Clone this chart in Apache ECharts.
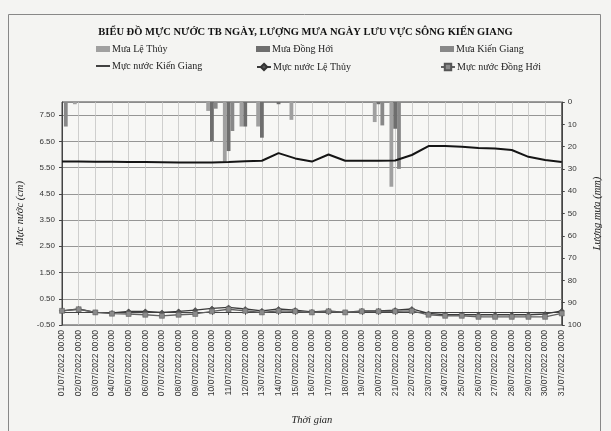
<!DOCTYPE html>
<html>
<head>
<meta charset="utf-8">
<script src="https://cdn.jsdelivr.net/npm/echarts@6/dist/echarts.min.js"></script>
<style>
html,body{margin:0;padding:0;background:#f4f4f2;}
#c{width:611px;height:431px;}
</style>
</head>
<body>
<div id="c"></div>
<script>
const dates = ["01/07/2022 00:00","02/07/2022 00:00","03/07/2022 00:00","04/07/2022 00:00","05/07/2022 00:00","06/07/2022 00:00","07/07/2022 00:00","08/07/2022 00:00","09/07/2022 00:00","10/07/2022 00:00","11/07/2022 00:00","12/07/2022 00:00","13/07/2022 00:00","14/07/2022 00:00","15/07/2022 00:00","16/07/2022 00:00","17/07/2022 00:00","18/07/2022 00:00","19/07/2022 00:00","20/07/2022 00:00","21/07/2022 00:00","22/07/2022 00:00","23/07/2022 00:00","24/07/2022 00:00","25/07/2022 00:00","26/07/2022 00:00","27/07/2022 00:00","28/07/2022 00:00","29/07/2022 00:00","30/07/2022 00:00","31/07/2022 00:00"];

const rainLeThuy   = [0,1,0,0,0,0,0,0,0,4,27,11,11,0,8,0,0,0,0,9,38,0,0,0,0,0,0,0,0,0,0];
const rainDongHoi  = [0,0,0,0,0,0,0,0,0,17.5,22,11,16,1,0,0,0,0,0,1,12,0,0,0,0,0,0,0,0,0,0];
const rainKienGiang= [11,0,0,0,0,0,0,0,0,3,13,0,0,0,0,0,0,0,0,10.5,30,0,0,0,0,0,0,0,0,0,0];

const levelKienGiang = [5.73,5.73,5.72,5.72,5.71,5.71,5.70,5.69,5.69,5.69,5.71,5.74,5.76,6.05,5.85,5.73,6.00,5.76,5.76,5.76,5.77,5.98,6.32,6.32,6.29,6.25,6.23,6.17,5.91,5.79,5.71];
const levelLeThuy    = [0.04,0.11,-0.02,-0.04,0.02,0.02,-0.02,0.02,0.07,0.13,0.17,0.11,0.04,0.11,0.07,0.0,0.04,-0.02,0.04,0.04,0.07,0.11,-0.06,-0.11,-0.11,-0.11,-0.11,-0.11,-0.11,-0.08,0.04];
const levelDongHoi   = [0.04,0.10,-0.02,-0.07,-0.08,-0.11,-0.15,-0.11,-0.08,0.02,0.10,0.04,-0.02,0.04,0.02,-0.02,0.02,-0.02,0.02,0.02,0.02,0.04,-0.11,-0.15,-0.15,-0.19,-0.19,-0.19,-0.19,-0.19,-0.06];

const serif = '"Liberation Serif", "DejaVu Serif", serif';
const sans = '"Liberation Sans", Arial, sans-serif';

function lg(name, left, top, icon, h){
  const o = {data:[{name:name}], left:left, top:top, itemWidth:14, itemHeight:h||6, itemGap:2,
    textStyle:{fontFamily:serif, fontSize:10, color:'#222', padding:[0,0,0,-3]}, padding:0};
  if(icon) o.data[0].icon = icon;
  return o;
}

const chart = echarts.init(document.getElementById('c'), null, {renderer:'canvas'});
chart.setOption({
  backgroundColor:'#f4f4f2',
  animation:false,
  title:{text:'BIỂU ĐỒ MỰC NƯỚC TB NGÀY, LƯỢNG MƯA NGÀY LƯU VỰC SÔNG KIẾN GIANG', left:'center', top:27,
    textStyle:{fontFamily:serif, fontWeight:'bold', fontSize:10.5, color:'#111'}, padding:0},
  legend:[
    lg('Mưa Lệ Thủy',96,44,'rect'),
    lg('Mưa Đồng Hới',256,44,'rect'),
    lg('Mưa Kiến Giang',440,44,'rect'),
    lg('Mực nước Kiến Giang',96,61,'rect',1.6),
    lg('Mực nước Lệ Thủy',256,62,null,8),
    lg('Mực nước Đồng Hới',440,62,null,8)
  ],
  graphic:[{type:'rect', shape:{x:8.5,y:14.5,width:592,height:430}, style:{fill:'none', stroke:'#888', lineWidth:1}, silent:true}],
  grid:{left:62, right:46, top:102, bottom:105, show:true, borderColor:'#444', borderWidth:1, backgroundColor:'#f7f7f5'},
  xAxis:{type:'category', data:dates, boundaryGap:false,
    name:'Thời gian', nameLocation:'middle', nameGap:90,
    nameTextStyle:{fontFamily:serif, fontStyle:'italic', fontSize:10.5, color:'#222'},
    axisLine:{lineStyle:{color:'#444'}},
    axisTick:{show:true, length:3, lineStyle:{color:'#444'}},
    axisLabel:{rotate:90, interval:0, fontFamily:sans, fontSize:8.5, color:'#333', margin:5},
    splitLine:{show:true, lineStyle:{color:'#c4c4c4', width:0.8}}
  },
  yAxis:[
    {type:'value', min:-0.5, max:8, interval:1, position:'left',
      name:'Mực nước (cm)', nameLocation:'middle', nameGap:27, nameRotate:90,
      nameTextStyle:{fontFamily:serif, fontStyle:'italic', fontSize:10.5, color:'#222'},
      axisLine:{show:true, lineStyle:{color:'#444'}},
      axisTick:{show:true, length:3, lineStyle:{color:'#444'}},
      axisLabel:{showMaxLabel:false, fontFamily:sans, fontSize:8, color:'#333', margin:7, formatter:v=>v.toFixed(2)},
      splitLine:{show:true, lineStyle:{color:'#8a8a8a', width:0.9}}
    },
    {type:'value', min:0, max:100, interval:10, inverse:true, position:'right',
      name:'Lượng mưa (mm)', nameLocation:'middle', nameGap:21, nameRotate:90,
      nameTextStyle:{fontFamily:serif, fontStyle:'italic', fontSize:10.5, color:'#222'},
      axisLine:{show:true, lineStyle:{color:'#444'}},
      axisTick:{show:true, length:3, lineStyle:{color:'#444'}},
      axisLabel:{fontFamily:sans, fontSize:8, color:'#333', margin:6},
      splitLine:{show:false}
    }
  ],
  series:[
    {name:'Mưa Lệ Thủy', type:'bar', yAxisIndex:1, data:rainLeThuy, barWidth:3.8, barGap:'0%',
      itemStyle:{color:'#a0a0a0', borderWidth:0}},
    {name:'Mưa Đồng Hới', type:'bar', yAxisIndex:1, data:rainDongHoi, barWidth:3.8, barGap:'0%',
      itemStyle:{color:'#6e6e6e', borderWidth:0}},
    {name:'Mưa Kiến Giang', type:'bar', yAxisIndex:1, data:rainKienGiang, barWidth:3.8, barGap:'0%',
      itemStyle:{color:'#888888', borderWidth:0}},
    {name:'Mực nước Kiến Giang', type:'line', yAxisIndex:0, data:levelKienGiang, symbol:'none',
      lineStyle:{color:'#151515', width:2}, itemStyle:{color:'#151515'}, z:5},
    {name:'Mực nước Lệ Thủy', type:'line', yAxisIndex:0, data:levelLeThuy, symbol:'diamond', symbolSize:5,
      lineStyle:{color:'#3a3a3a', width:1.3}, itemStyle:{color:'#555', borderColor:'#333', borderWidth:0.5}, z:5},
    {name:'Mực nước Đồng Hới', type:'line', yAxisIndex:0, data:levelDongHoi, symbol:'rect', symbolSize:5,
      lineStyle:{color:'#606060', width:1.3}, itemStyle:{color:'#8a8a8a', borderColor:'#555', borderWidth:0.5}, z:5}
  ]
});
</script>
</body>
</html>
